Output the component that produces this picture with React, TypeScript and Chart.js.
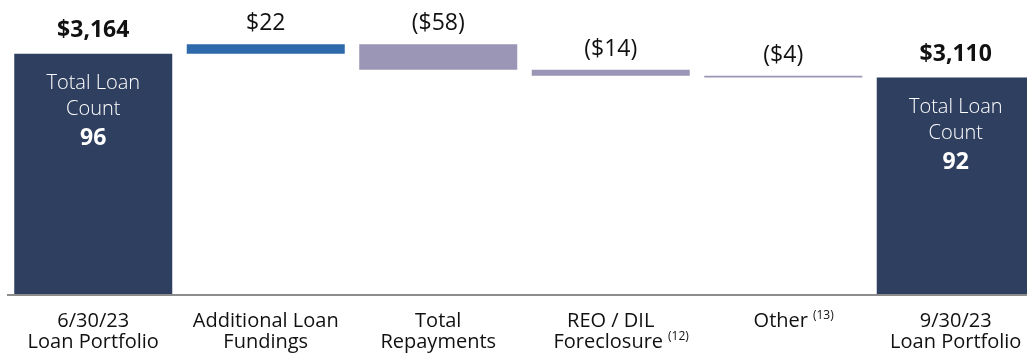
import React, { useEffect, useRef } from "react";
import { Chart, registerables } from "chart.js";

Chart.register(...registerables);

// Loan portfolio bridge, $ in millions
const categoryLines: string[][] = [
  ["6/30/23", "Loan Portfolio"],
  ["Additional Loan", "Fundings"],
  ["Total", "Repayments"],
  ["REO / DIL", "Foreclosure"],
  ["Other"],
  ["9/30/23", "Loan Portfolio"],
];
const footnotes: string[] = ["", "", "", "(12)", "(13)", ""];
const startBalance = 3164;
const changes: number[] = [22, -58, -14, -4];
const endBalance = 3110;
const loanCounts: (number | null)[] = [96, null, null, null, null, 92];

const axisMin = 2618;
const axisMax = 3250;

const NAVY = "#2F3F5F";
const BLUE = "#2E6AAB";
const LAVENDER = "#9B96B5";
const FONT = "'Open Sans', 'Noto Sans', sans-serif";

function fmtMoney(v: number): string {
  const s = "$" + Math.abs(v).toLocaleString("en-US");
  return v < 0 ? "(" + s + ")" : s;
}

// Floating segments for the waterfall
const ranges: [number, number][] = [];
const values: number[] = [];
const colors: string[] = [];
ranges.push([0, startBalance]);
values.push(startBalance);
colors.push(NAVY);
let running = startBalance;
for (const c of changes) {
  const next = running + c;
  ranges.push([Math.min(running, next), Math.max(running, next)]);
  values.push(c);
  colors.push(c >= 0 ? BLUE : LAVENDER);
  running = next;
}
ranges.push([0, endBalance]);
values.push(endBalance);
colors.push(NAVY);
const isTotal = values.map((_, i) => i === 0 || i === values.length - 1);

const annotations = {
  id: "bridgeAnnotations",
  afterDatasetsDraw(chart: any) {
    const ctx: CanvasRenderingContext2D = chart.ctx;
    const meta = chart.getDatasetMeta(0);
    const area = chart.chartArea;
    ctx.save();

    // baseline
    ctx.strokeStyle = "#8C8C8C";
    ctx.lineWidth = 2;
    ctx.beginPath();
    ctx.moveTo(7, area.bottom + 1);
    ctx.lineTo(chart.width, area.bottom + 1);
    ctx.stroke();

    meta.data.forEach((bar: any, i: number) => {
      const x = bar.x;
      const top = Math.min(bar.y, bar.base);

      // value above each bar
      ctx.fillStyle = "#111111";
      ctx.textAlign = "center";
      ctx.textBaseline = "alphabetic";
      ctx.font = isTotal[i] ? `bold 23px ${FONT}` : `23px ${FONT}`;
      ctx.fillText(fmtMoney(values[i]), x, top - (isTotal[i] ? 17 : 14));

      // loan count inside the total bars
      const count = loanCounts[i];
      if (count !== null) {
        ctx.fillStyle = "#FFFFFF";
        ctx.font = `300 20px ${FONT}`;
        ctx.fillText("Total Loan", x, top + 35);
        ctx.fillText("Count", x, top + 61);
        ctx.font = `bold 23px ${FONT}`;
        ctx.fillText(String(count), x, top + 91);
      }

      // category label with optional footnote marker
      const lines = categoryLines[i];
      lines.forEach((line, li) => {
        const y = area.bottom + 33 + li * 21;
        ctx.fillStyle = "#111111";
        ctx.font = `20px ${FONT}`;
        const note = li === lines.length - 1 ? footnotes[i] : "";
        if (!note) {
          ctx.textAlign = "center";
          ctx.fillText(line, x, y);
        } else {
          const mainW = ctx.measureText(line).width;
          ctx.font = `12px ${FONT}`;
          const noteW = ctx.measureText(note).width;
          const gap = 5;
          const startX = x - (mainW + gap + noteW) / 2 + noteW / 2;
          ctx.textAlign = "left";
          ctx.font = `20px ${FONT}`;
          ctx.fillText(line, startX, y);
          ctx.font = `12px ${FONT}`;
          ctx.fillText(note, startX + mainW + gap, y - 8);
        }
      });
    });
    ctx.restore();
  },
};

export default function App() {
  const canvasRef = useRef<HTMLCanvasElement | null>(null);

  useEffect(() => {
    if (!canvasRef.current) return;
    const chart = new Chart(canvasRef.current, {
      type: "bar",
      data: {
        labels: categoryLines.map((l) => l.join(" ")),
        datasets: [
          {
            data: ranges as any,
            backgroundColor: colors,
            borderWidth: 0,
            borderSkipped: false,
            barPercentage: 0.916,
            categoryPercentage: 1,
          },
        ],
      },
      options: {
        animation: false,
        responsive: false,
        maintainAspectRatio: false,
        events: [],
        layout: { padding: { left: 7, right: 1, top: 16, bottom: 62 } },
        plugins: {
          legend: { display: false },
          tooltip: { enabled: false },
        },
        scales: {
          x: { display: false, grid: { display: false } },
          y: { display: false, min: axisMin, max: axisMax, grid: { display: false } },
        },
      },
      plugins: [annotations],
    });
    return () => chart.destroy();
  }, []);

  return (
    <div
      style={{
        position: "fixed",
        left: 0,
        top: 0,
        width: 1027,
        height: 356,
        overflow: "hidden",
        background: "#FFFFFF",
      }}
    >
      <canvas ref={canvasRef} width={1043} height={356} style={{ display: "block" }} />
    </div>
  );
}
